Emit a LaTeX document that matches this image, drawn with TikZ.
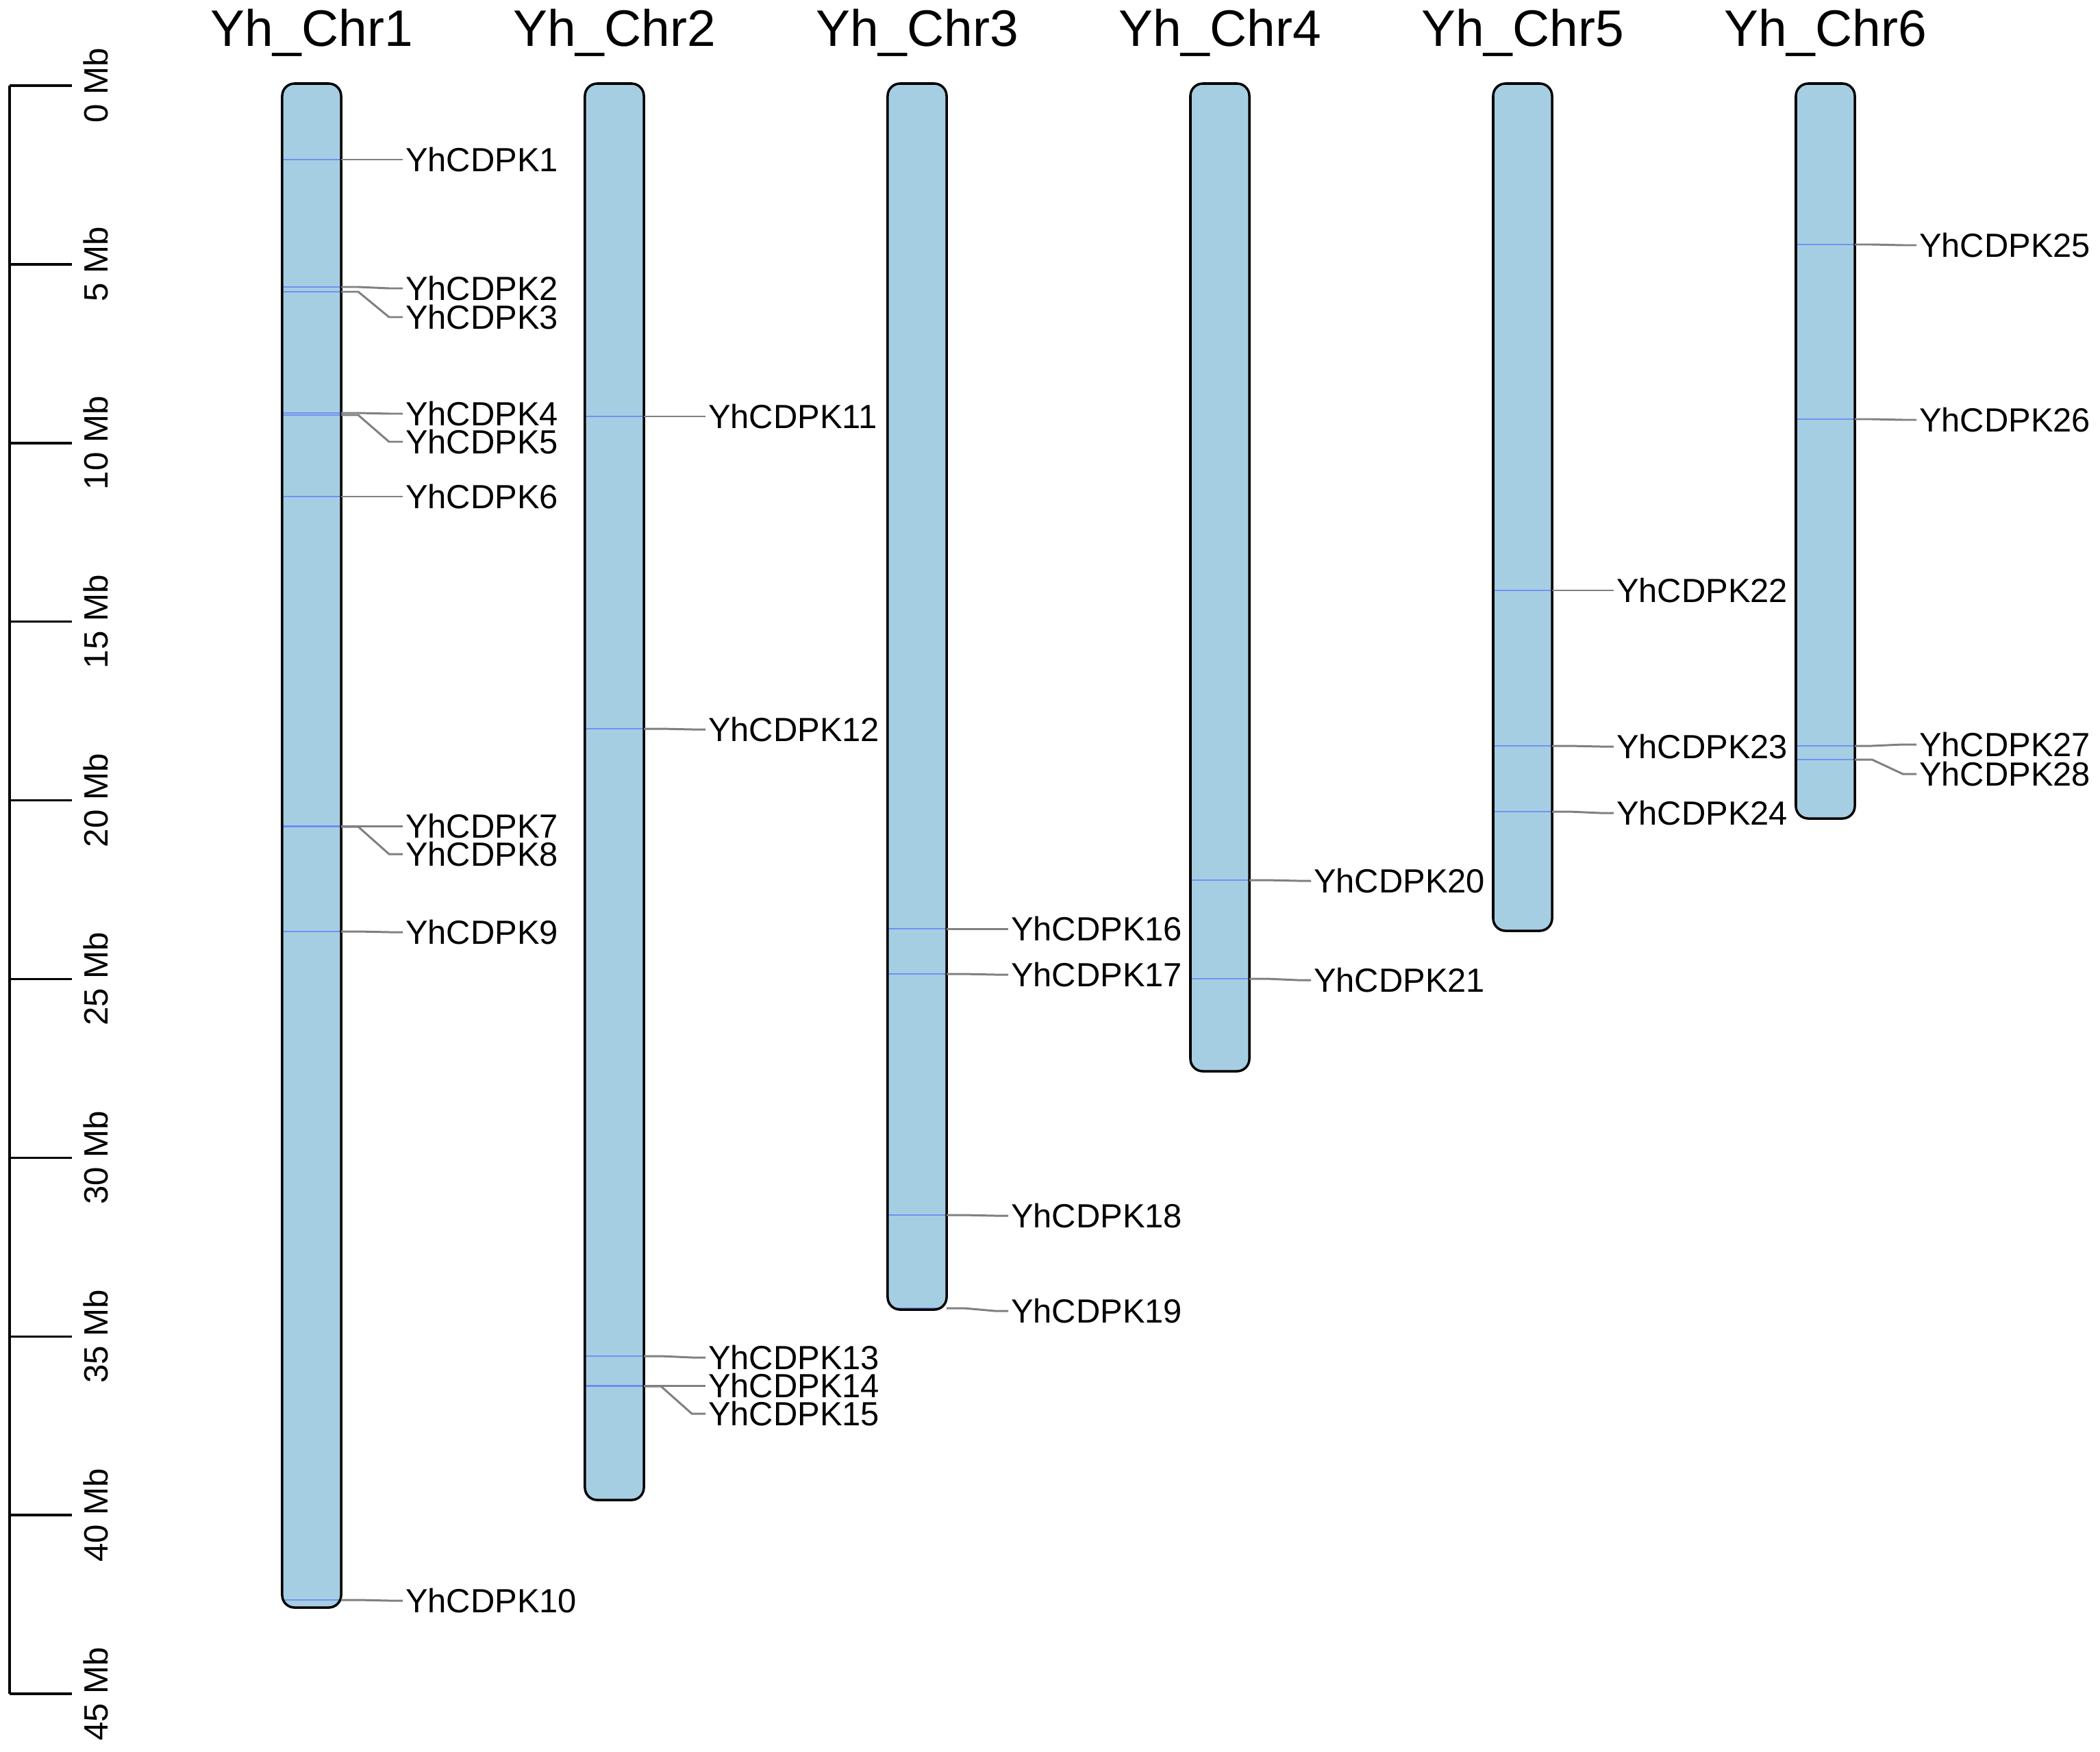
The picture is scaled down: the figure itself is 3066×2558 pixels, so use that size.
\documentclass[tikz,border=0pt]{standalone}
\usepackage{fontspec}
\setmainfont{Liberation Sans}
\usetikzlibrary{calc}
\definecolor{chrfill}{RGB}{166,206,227}
\definecolor{genecol}{RGB}{100,130,245}
\definecolor{linkcol}{RGB}{128,128,128}
\tikzset{
  chrbox/.style={fill=chrfill, rounded corners=0.18cm, minimum width=0.86cm, inner sep=0pt, outer sep=0pt, anchor=north},
  chroutline/.style={draw=black, line width=1pt, rounded corners=0.18cm},
  chrtitle/.style={font=\fontsize{21.3}{24}\selectfont, anchor=base, inner sep=0pt},
  genelab/.style={font=\fontsize{13.9}{16}\selectfont, anchor=west, inner sep=0pt, outer xsep=0.04cm, text height=9.95pt, text depth=0pt},
  genemark/.style={genecol, line width=0.6pt, opacity=0.8},
  link/.style={linkcol, line width=0.85pt},
  scaleline/.style={black, line width=1pt},
  scalelab/.style={font=\fontsize{14}{16}\selectfont, rotate=90, anchor=base, inner sep=0pt},
}
% #1 index, #2 centre x, #3 bottom y, #4 title, #5 list of gene positions
\newcommand\chromo[5]{%
  \pgfmathsetmacro\chrh{(#3-122)*0.01}%
  \node[chrbox, minimum height=\chrh cm] (c#1) at (#2,122) {};
  \node[chrtitle] (t#1) at (#2,68) {#4};
  \begin{scope}
    \clip[rounded corners=0.18cm] (c#1.south west) rectangle (c#1.north east);
    \foreach \gy in {#5} {
      \draw[genemark] (c#1.west |- 0,\gy) -- (c#1.east |- 0,\gy);
    }
  \end{scope}
  \draw[chroutline] (c#1.south west) rectangle (c#1.north east);
}
% #1 chromosome index, #2 gene number, #3 gene y, #4 label y
\newcommand\gene[4]{%
  \node[genelab] (g#2) at ($(c#1.east |- 0,#4)+(90,0)$) {YhCDPK#2};
  \draw[link] (c#1.east |- 0,#3) -- ++(25,0) -- ($(g#2.west)+(-20,0)$) -- (g#2.west);
}
\begin{document}
\begin{tikzpicture}[x=0.01cm, y=-0.01cm]
\useasboundingbox (0,0) rectangle (3066,2558);
% scale bar
\coordinate (s0) at (14,125);
\coordinate (s45) at (14,2473);
\draw[scaleline] (s0) -- (s45);
\foreach \k in {0,5,...,45} {
  \pgfmathsetmacro\yy{125+52.18*\k}
  \draw[scaleline] (14,\yy) -- (105,\yy);
  \node[scalelab] (m\k) at (157,\yy) {\k\ Mb};
}
% chromosomes
\chromo{1}{455}{2347}{Yh\_Chr1}{233,419,426,603,606,725,1206,1207,1360,2336}
\chromo{2}{897}{2190}{Yh\_Chr2}{608,1064,1980,2023,2024}
\chromo{3}{1339}{1912}{Yh\_Chr3}{1356,1422,1774,1910}
\chromo{4}{1781}{1564}{Yh\_Chr4}{1285,1429}
\chromo{5}{2223}{1359}{Yh\_Chr5}{862,1089,1185}
\chromo{6}{2665}{1195}{Yh\_Chr6}{357,612,1089,1109}
% genes
\gene{1}{1}{233}{233}
\gene{1}{2}{419}{421}
\gene{1}{3}{426}{463}
\gene{1}{4}{603}{604}
\gene{1}{5}{606}{645}
\gene{1}{6}{725}{725}
\gene{1}{7}{1206}{1206}
\gene{1}{8}{1207}{1247}
\gene{1}{9}{1360}{1361}
\gene{1}{10}{2336}{2337}
\gene{2}{11}{608}{608}
\gene{2}{12}{1064}{1065}
\gene{2}{13}{1980}{1982}
\gene{2}{14}{2023}{2023}
\gene{2}{15}{2024}{2064}
\gene{3}{16}{1356}{1356}
\gene{3}{17}{1422}{1423}
\gene{3}{18}{1774}{1775}
\gene{3}{19}{1910}{1914}
\gene{4}{20}{1285}{1286}
\gene{4}{21}{1429}{1431}
\gene{5}{22}{862}{862}
\gene{5}{23}{1089}{1090}
\gene{5}{24}{1185}{1187}
\gene{6}{25}{357}{358}
\gene{6}{26}{612}{613}
\gene{6}{27}{1089}{1087}
\gene{6}{28}{1109}{1130}
\end{tikzpicture}
\end{document}
